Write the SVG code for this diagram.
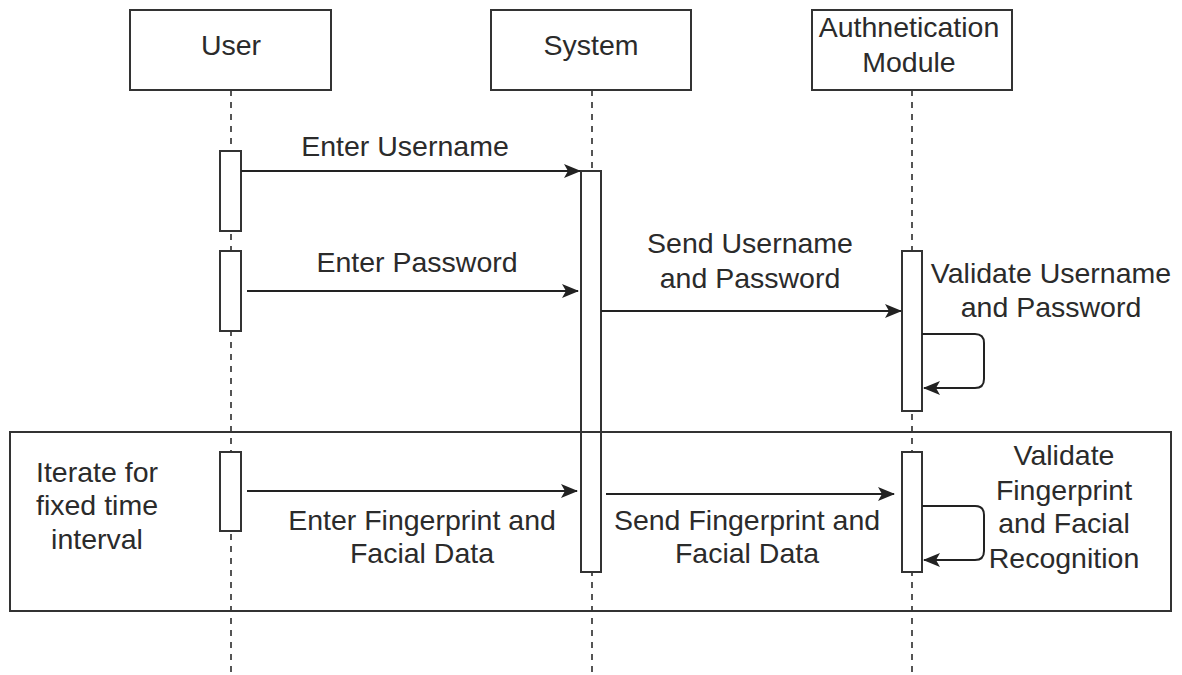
<svg xmlns="http://www.w3.org/2000/svg" width="1182" height="675" viewBox="0 0 1182 675">
  <style>
    .box { fill: #fff; stroke: #333; stroke-width: 2; }
    .bar { fill: #fff; stroke: #333; stroke-width: 2; }
    .life { stroke: #555; stroke-width: 2; stroke-dasharray: 6 6; fill: none; }
    .msg { stroke: #222; stroke-width: 2; fill: none; }
    .frame { fill: none; stroke: #333; stroke-width: 2; }
    text { font-family: "Liberation Sans", Arial, sans-serif; font-size: 28.5px; fill: #2b2b2b; text-anchor: middle; }
  </style>
  <defs>
    <marker id="arrow" markerWidth="18" markerHeight="16" refX="16" refY="8" orient="auto" markerUnits="userSpaceOnUse">
      <path d="M0,1 L17,8 L0,15 L4,8 z" fill="#222"/>
    </marker>
  </defs>

  <!-- lifelines -->
  <g id="lifelines">
    <line class="life" x1="231" y1="90" x2="231" y2="675"/>
    <line class="life" x1="592" y1="90" x2="592" y2="675"/>
    <line class="life" x1="912" y1="90" x2="912" y2="675"/>
  </g>

  <!-- participants -->
  <g id="user">
    <rect class="box" x="130" y="10" width="201" height="80"/>
    <text x="231" y="55">User</text>
  </g>
  <g id="system">
    <rect class="box" x="491" y="10" width="200" height="80"/>
    <text x="591" y="55">System</text>
  </g>
  <g id="auth-module">
    <rect class="box" x="812" y="10" width="200" height="80"/>
    <text x="909" y="37">Authnetication</text>
    <text x="909" y="72">Module</text>
  </g>

  <!-- activation bars -->
  <g id="activations">
    <rect class="bar" x="220" y="151" width="21" height="80"/>
    <rect class="bar" x="220" y="251" width="21" height="80"/>
    <rect class="bar" x="220" y="452" width="21" height="79"/>
    <rect class="bar" x="581" y="171" width="20" height="401"/>
    <rect class="bar" x="902" y="251" width="20" height="160"/>
    <rect class="bar" x="902" y="452" width="20" height="120"/>
  </g>

  <!-- loop frame -->
  <g id="loop-frame">
    <rect class="frame" x="10" y="432" width="1161" height="179"/>
    <text x="97" y="482">Iterate for</text>
    <text x="97" y="515">fixed time</text>
    <text x="97" y="549">interval</text>
  </g>

  <!-- messages -->
  <g id="connectors">
    <line class="msg" x1="241" y1="171" x2="580" y2="171" marker-end="url(#arrow)"/>
    <line class="msg" x1="247" y1="291" x2="578" y2="291" marker-end="url(#arrow)"/>
    <line class="msg" x1="601" y1="311" x2="901" y2="311" marker-end="url(#arrow)"/>
    <path class="msg" d="M922,334 H975 Q984,334 984,343 V379 Q984,388 975,388 H924" marker-end="url(#arrow)"/>
    <line class="msg" x1="247" y1="491" x2="577" y2="491" marker-end="url(#arrow)"/>
    <line class="msg" x1="606" y1="494" x2="894" y2="494" marker-end="url(#arrow)"/>
    <path class="msg" d="M922,506 H975 Q984,506 984,515 V551 Q984,560 975,560 H924" marker-end="url(#arrow)"/>
  </g>

  <!-- message labels -->
  <g id="labels">
    <text x="405" y="156">Enter Username</text>
    <text x="417" y="272">Enter Password</text>
    <text x="750" y="253">Send Username</text>
    <text x="750" y="288">and Password</text>
    <text x="1051" y="283">Validate Username</text>
    <text x="1051" y="317">and Password</text>
    <text x="422" y="530">Enter Fingerprint and</text>
    <text x="422" y="563">Facial Data</text>
    <text x="747" y="530">Send Fingerprint and</text>
    <text x="747" y="563">Facial Data</text>
    <text x="1064" y="465">Validate</text>
    <text x="1064" y="500">Fingerprint</text>
    <text x="1064" y="533">and Facial</text>
    <text x="1064" y="568">Recognition</text>
  </g>
</svg>
